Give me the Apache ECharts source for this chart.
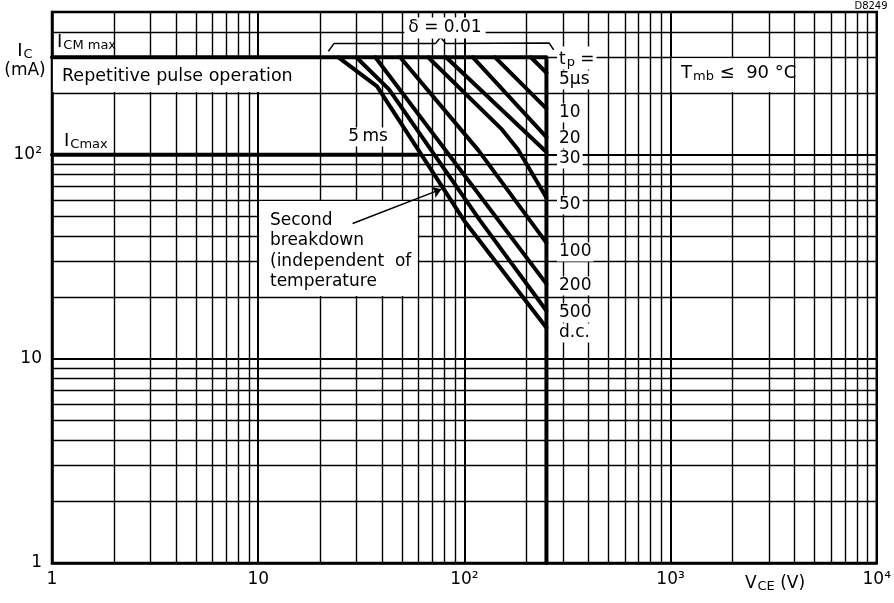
<!DOCTYPE html>
<html><head><meta charset="utf-8">
<script src="https://cdn.jsdelivr.net/npm/echarts@6/dist/echarts.min.js"></script>
<style>html,body{margin:0;padding:0;background:#fff}#c{width:894px;height:603px}</style>
</head><body><div id="c"></div>
<script>
// ---- axis / grid values ----
const xLabelMap = {1:'1', 10:'10', 100:'10²', 1000:'10³', 10000:'10⁴'};
const yLabelMap = {1:'1', 10:'10', 100:'10²'};
const xGridLines = [2,3,4,5,6,7,8,9,10,20,30,40,50,60,70,80,90,100,200,300,400,500,600,700,800,900,1000,2000,3000,4000,5000,6000,7000,8000,9000];
const yGridLines = [2,3,4,5,6,7,8,9,10,20,30,40,50,60,70,80,90,100,200,300,400];
const majorLines = [10,100,1000];

// ---- limit curves (V_CE in V, I_C in mA) ----
const curveICM_VCEO = [[1,300],[250,300],[250,1]];
const curveICmax = [[1,100],[60,100]];
const tp5us = [[210,300],[250,252]];
const tp10us = [[141,300],[250,168]];
const tp20us = [[110,300],[250,122]];
const tp30us = [[81.5,300],[250,103]];
const tp50us = [[66.7,300],[152,133],[182,106],[250,61.5]];
const tp100us = [[48.8,300],[117,105],[250,37]];
const tp200us = [[37,300],[250,23.3]];
const tp500us = [[29.9,300],[43.1,209],[119,47.7],[250,17.2]];
const tpDC = [[24.5,300],[37.7,216],[99.8,47.5],[250,14.2]];
const deltaBracket = [[21.9,321],[23.3,350],[72.4,350],[76.6,376],[81.3,350],[258,352],[271,326]];
const arrowFrom = [28.7,46];
const arrowTo = [77.4,67.8];
const whiteBoxes = [[[1.01,203],[19.8,297]], [[1010,203],[3960,297]], [[10.1,20.3],[59.4,59.4]]];

const FONT = '"DejaVu Sans", sans-serif';
const chart = echarts.init(document.getElementById('c'));

function curve(data){
  return {type:'line', data, showSymbol:false, symbol:'none', silent:true, z:3,
    lineStyle:{color:'#000', width:4, join:'round', cap:'round'}};
}
function txt(x, y, text, opts){
  opts = opts || {};
  return {type:'text', x, y, z:100, silent:true, style:Object.assign({
    text, font: (opts.size||17)+'px '+FONT, fill:'#000',
    align: opts.align||'left', verticalAlign: opts.va||'middle'
  }, opts.style||{})};
}
const subRich = (main, sub) => ({
  m:{fontFamily:'DejaVu Sans', fontSize:main, lineHeight:main+4, verticalAlign:'bottom'},
  s:{fontFamily:'DejaVu Sans', fontSize:sub, lineHeight:sub, verticalAlign:'bottom', padding:[0,0,-1,1]}
});
const whiteBg = {backgroundColor:'#fff', padding:[1,2]};

const gridMarks = xGridLines.map(v => ({xAxis:v, lineStyle:{width: majorLines.includes(v)?2:1.4}}))
  .concat(yGridLines.map(v => ({yAxis:v, lineStyle:{width: majorLines.includes(v)?2:1.4}})));

const option = {
  animation:false,
  backgroundColor:'#fff',
  grid:{left:52, top:12, right:15, bottom:40, show:true, borderColor:'#000', borderWidth:2.5, backgroundColor:'#fff'},
  xAxis:{type:'log', logBase:10, min:1, max:10000,
    axisLine:{show:true, lineStyle:{color:'#000', width:2.5}}, axisTick:{show:false},
    splitLine:{show:false},
    axisLabel:{color:'#000', fontSize:17, fontFamily:'DejaVu Sans', margin:8,
      formatter: v => xLabelMap[Math.round(v)] || ''}},
  yAxis:{type:'log', logBase:10, min:1, max:500,
    axisLine:{show:true, lineStyle:{color:'#000', width:2.5}}, axisTick:{show:false},
    splitLine:{show:false},
    axisLabel:{color:'#000', fontSize:17, fontFamily:'DejaVu Sans', margin:10,
      formatter: v => yLabelMap[Math.round(v)] || ''}},
  series:[
    {type:'line', data:[[1,1]], showSymbol:false, silent:true, lineStyle:{width:0}, z:1,
      markLine:{silent:true, z:1, symbol:['none','none'], label:{show:false},
        lineStyle:{color:'#000', type:'solid', width:1.4}, data:gridMarks}},
    {type:'line', data:[[1,1]], showSymbol:false, silent:true, lineStyle:{width:0}, z:2,
      markArea:{silent:true, z:2, itemStyle:{color:'#fff'},
        data: whiteBoxes.map(b => [{coord:b[0]},{coord:b[1]}])}},
    curve(curveICM_VCEO), curve(curveICmax),
    curve(tp5us), curve(tp10us), curve(tp20us), curve(tp30us), curve(tp50us),
    curve(tp100us), curve(tp200us), curve(tp500us), curve(tpDC),
    {type:'line', data:deltaBracket, showSymbol:false, symbol:'none', silent:true, z:3,
      lineStyle:{color:'#000', width:1.5}},
    {type:'line', data:[[1,1]], showSymbol:false, silent:true, lineStyle:{width:0}, z:3,
      markLine:{silent:true, z:4, symbol:['none','arrow'], symbolSize:9, label:{show:false},
        lineStyle:{color:'#000', type:'solid', width:1.5},
        data:[[{coord:arrowFrom},{coord:arrowTo}]]}}
  ],
  graphic:[
    txt(25, 49, '{m|I}{s|C}', {style:{rich:subRich(18,13)}, align:'center'}),
    txt(25, 71, '(mA)', {align:'center'}),
    txt(57, 40, '{m|I}{s|CM max}', {style:{rich:subRich(18,13)}}),
    txt(62, 76, 'Repetitive pulse operation', {size:17.5}),
    txt(64, 139, '{m|I}{s|Cmax}', {style:{rich:subRich(18,13)}}),
    txt(368, 137, '5\u2009ms', {align:'center', style:whiteBg}),
    txt(445, 28, 'δ = 0.01', {align:'center', style:{backgroundColor:'#fff', padding:[2,4]}}),
    txt(681, 71, '{m|T}{s|mb}{m| ≤  90 °C}', {size:18, style:{rich:subRich(18,13)}}),
    txt(557, 58, '{m|t}{s|p}{m| =}', {style:Object.assign({rich:subRich(17,13)}, whiteBg)}),
    txt(557, 80, '5µs', {style:whiteBg}),
    txt(557, 113, '10', {style:whiteBg}),
    txt(557, 139, '20', {style:whiteBg}),
    txt(557, 159, '30', {style:whiteBg}),
    txt(557, 205, '50', {style:whiteBg}),
    txt(557, 252, '100', {style:whiteBg}),
    txt(557, 286, '200', {style:whiteBg}),
    txt(557, 313, '500', {style:whiteBg}),
    txt(557, 333, 'd.c.', {style:whiteBg}),
    txt(270, 210, 'Second\nbreakdown\n(independent  of\ntemperature', {va:'top', style:{lineHeight:20.5}}),
    txt(775, 582, '{m|V}{s|CE}{m| (V)}', {align:'center', style:{rich:subRich(17,13)}}),
    txt(871, 6, 'D8249', {size:10, align:'center'})
  ]
};
chart.setOption(option);
</script>
</body></html>
